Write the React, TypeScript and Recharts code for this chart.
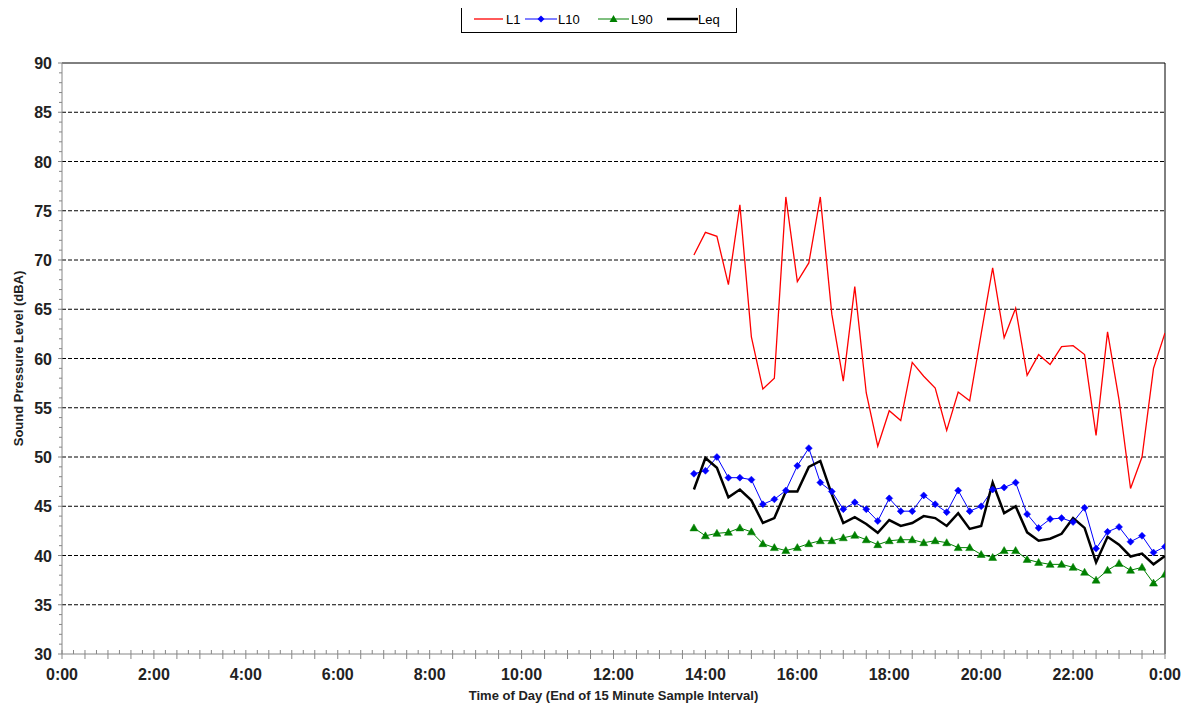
import React from 'react';
import { LineChart, Line, XAxis, YAxis, ReferenceLine, Legend, Label } from 'recharts';

const times = [13.75, 14, 14.25, 14.5, 14.75, 15, 15.25, 15.5, 15.75, 16, 16.25, 16.5, 16.75, 17, 17.25, 17.5, 17.75, 18, 18.25, 18.5, 18.75, 19, 19.25, 19.5, 19.75, 20, 20.25, 20.5, 20.75, 21, 21.25, 21.5, 21.75, 22, 22.25, 22.5, 22.75, 23, 23.25, 23.5, 23.75, 24];

const l1 = [70.5, 72.8, 72.4, 67.5, 75.6, 62.2, 56.9, 58.0, 76.4, 67.8, 69.7, 76.4, 64.5, 57.7, 67.3, 56.5, 51.1, 54.7, 53.7, 59.6, 58.2, 57.0, 52.7, 56.6, 55.7, 62.5, 69.2, 62.1, 65.1, 58.3, 60.4, 59.4, 61.2, 61.3, 60.4, 52.2, 62.7, 55.8, 46.8, 50.0, 59.0, 62.6];

const l10 = [48.3, 48.6, 50.0, 47.9, 47.9, 47.7, 45.2, 45.7, 46.6, 49.1, 50.9, 47.4, 46.5, 44.7, 45.4, 44.7, 43.5, 45.8, 44.5, 44.5, 46.1, 45.2, 44.4, 46.6, 44.5, 45.0, 46.7, 46.9, 47.4, 44.2, 42.8, 43.7, 43.8, 43.4, 44.85, 40.7, 42.4, 42.9, 41.4, 42.0, 40.3, 40.9];

const l90 = [42.8, 42.0, 42.25, 42.35, 42.8, 42.4, 41.2, 40.8, 40.5, 40.8, 41.2, 41.5, 41.5, 41.8, 42.05, 41.6, 41.1, 41.5, 41.6, 41.6, 41.3, 41.5, 41.3, 40.8, 40.8, 40.1, 39.8, 40.5, 40.5, 39.6, 39.3, 39.1, 39.1, 38.8, 38.3, 37.5, 38.5, 39.2, 38.5, 38.8, 37.2, 38.1];

const leq = [46.7, 49.9, 48.9, 45.9, 46.7, 45.6, 43.3, 43.8, 46.5, 46.5, 49.0, 49.6, 46.2, 43.3, 43.9, 43.2, 42.3, 43.6, 43.0, 43.3, 44.0, 43.8, 43.0, 44.3, 42.7, 43.0, 47.4, 44.3, 45.0, 42.35, 41.5, 41.7, 42.2, 43.8, 42.8, 39.3, 41.9, 41.1, 39.9, 40.2, 39.1, 39.95];

const xLabelHours = [0, 2, 4, 6, 8, 10, 12, 14, 16, 18, 20, 22, 24];
const yLabelValues = [30, 35, 40, 45, 50, 55, 60, 65, 70, 75, 80, 85, 90];
const gridValues = [35, 40, 45, 50, 55, 60, 65, 70, 75, 80, 85];

const xTicks = Array.from({ length: 97 }, (_, i) => i * 0.25);
const yTicks = Array.from({ length: 61 }, (_, i) => 30 + i);

const data = times.map((t, i) => ({ t, L1: l1[i], L10: l10[i], L90: l90[i], Leq: leq[i] }));

const FONT = '"Liberation Sans", Arial, sans-serif';
const AXIS = '#868686';

const fmtHour = (v: number) => (v === 24 ? '0:00' : `${v}:00`);

const XTick = (props: any) => {
  const { x, y, payload } = props;
  const v = payload.value as number;
  const isMajor = Math.abs(v * 2 - Math.round(v * 2)) < 1e-6;
  const isLabel = xLabelHours.includes(v);
  return (
    <g>
      <line x1={x} x2={x} y1={y - 4} y2={isMajor ? y + 5 : y} stroke={AXIS} strokeWidth={1} />
      {isLabel && (
        <text x={x} y={y + 26} textAnchor="middle" fontFamily={FONT} fontWeight="bold" fontSize={16} fill="#222">
          {fmtHour(v)}
        </text>
      )}
    </g>
  );
};

const YTick = (props: any) => {
  const { x, y, payload } = props;
  const v = payload.value as number;
  const isLabel = yLabelValues.includes(v);
  return (
    <g>
      <line x1={isLabel ? x - 4 : x - 3} x2={x} y1={y} y2={y} stroke={AXIS} strokeWidth={1} />
      {isLabel && (
        <text x={x - 10} y={y + 6} textAnchor="end" fontFamily={FONT} fontWeight="bold" fontSize={16} fill="#222">
          {v}
        </text>
      )}
    </g>
  );
};

const Diamond = (p: any) => {
  const { cx, cy, index } = p;
  if (cx == null || cy == null) return <g key={`d-${index}`} />;
  const s = 3.5;
  return (
    <polygon
      key={`d-${index}`}
      points={`${cx},${cy - s} ${cx + s},${cy} ${cx},${cy + s} ${cx - s},${cy}`}
      fill="#0000ff"
      stroke="#0000ff"
      strokeWidth={0.5}
    />
  );
};

const Triangle = (p: any) => {
  const { cx, cy, index } = p;
  if (cx == null || cy == null) return <g key={`t-${index}`} />;
  return (
    <polygon
      key={`t-${index}`}
      points={`${cx},${cy - 4} ${cx + 4},${cy + 3} ${cx - 4},${cy + 3}`}
      fill="#008000"
      stroke="#008000"
      strokeWidth={0.5}
    />
  );
};

const LegendBox = () => (
  <svg width={276} height={28} style={{ display: 'block' }}>
    <rect x={0.5} y={0.5} width={275} height={27} fill="#fff" stroke="#000" strokeWidth={1} />
    <line x1={13} x2={42} y1={14} y2={14} stroke="#ff0000" strokeWidth={1.3} />
    <text x={45} y={18.5} fontFamily={FONT} fontSize={13} fill="#000">L1</text>
    <line x1={64} x2={96} y1={14} y2={14} stroke="#0000ff" strokeWidth={1} />
    <polygon points="80,10.5 83.5,14 80,17.5 76.5,14" fill="#0000ff" />
    <text x={97} y={18.5} fontFamily={FONT} fontSize={13} fill="#000">L10</text>
    <line x1={137} x2={168} y1={14} y2={14} stroke="#008000" strokeWidth={1} />
    <polygon points="152.5,10 156.5,17 148.5,17" fill="#008000" />
    <text x={170} y={18.5} fontFamily={FONT} fontSize={13} fill="#000">L90</text>
    <line x1={206} x2={237} y1={14} y2={14} stroke="#000" strokeWidth={2.5} />
    <text x={237} y={18.5} fontFamily={FONT} fontSize={13} fill="#000">Leq</text>
  </svg>
);

export default function App() {
  return (
    <div style={{ position: 'relative', width: 1174, height: 700 }}>
      <LineChart width={1174} height={700} data={data} margin={{ top: 55, right: 17, bottom: 24, left: 0 }}>
        <XAxis
          type="number"
          dataKey="t"
          domain={[0, 24]}
          ticks={xTicks}
          interval={0}
          tick={<XTick />}
          tickSize={0}
          tickMargin={0}
          tickLine={false}
          axisLine={{ stroke: AXIS, strokeWidth: 1 }}
          height={30}
          allowDataOverflow
        >
          <Label
            value="Time of Day (End of 15 Minute Sample Interval)"
            position="center"
            dy={26}
            style={{ fontFamily: FONT, fontWeight: 'bold', fontSize: 13, fill: '#222' }}
          />
        </XAxis>
        <YAxis
          type="number"
          domain={[30, 90]}
          ticks={yTicks}
          interval={0}
          tick={<YTick />}
          tickSize={0}
          tickMargin={0}
          tickLine={false}
          axisLine={{ stroke: AXIS, strokeWidth: 1 }}
          width={54}
          allowDataOverflow
        >
          <Label
            value="Sound Pressure Level (dBA)"
            angle={-90}
            position="center"
            dx={-17}
            style={{ fontFamily: FONT, fontWeight: 'bold', fontSize: 13, fill: '#222', textAnchor: 'middle' }}
          />
        </YAxis>
        {gridValues.map((v) => (
          <ReferenceLine key={`g-${v}`} y={v} stroke="#000" strokeWidth={1} strokeDasharray="4 2" />
        ))}
        <ReferenceLine y={90} stroke="#000" strokeWidth={1} />
        <ReferenceLine x={24} stroke="#000" strokeWidth={1} />
        <Legend
          layout="horizontal"
          verticalAlign="middle"
          align="center"
          content={() => <LegendBox />}
          wrapperStyle={{ top: -3, left: 453, width: 276, height: 28 }}
        />
        <Line dataKey="L1" name="L1" stroke="#ff0000" strokeWidth={1.3} dot={false} activeDot={false} isAnimationActive={false} />
        <Line dataKey="L10" name="L10" stroke="#0000ff" strokeWidth={1} dot={Diamond} activeDot={false} isAnimationActive={false} />
        <Line dataKey="L90" name="L90" stroke="#008000" strokeWidth={1} dot={Triangle} activeDot={false} isAnimationActive={false} />
        <Line dataKey="Leq" name="Leq" stroke="#000000" strokeWidth={2.5} dot={false} activeDot={false} isAnimationActive={false} />
      </LineChart>
    </div>
  );
}
